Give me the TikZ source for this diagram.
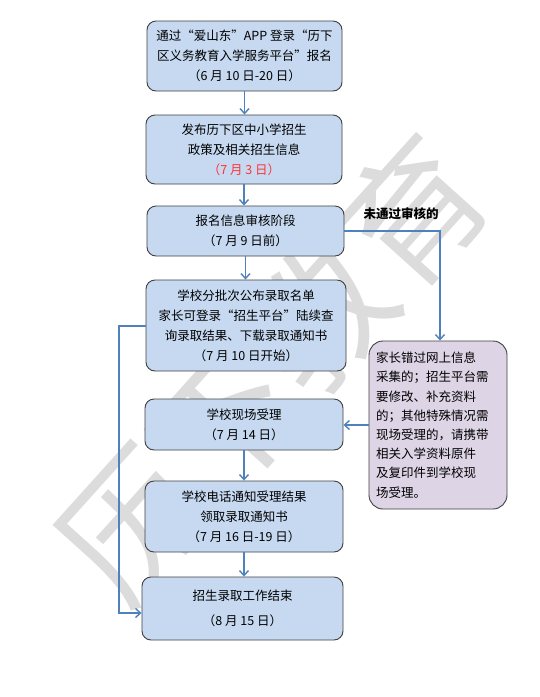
\documentclass[tikz,border=0pt]{standalone}
\usepackage{fontspec}
\setmainfont{Noto Sans CJK SC}
\usetikzlibrary{arrows.meta,calc}
\definecolor{boxfill}{HTML}{C6D9F1}
\definecolor{boxline}{HTML}{404040}
\definecolor{pfill}{HTML}{DDD5E6}
\definecolor{arrowc}{HTML}{4F81BD}
\definecolor{wmark}{HTML}{DCDCDC}
\definecolor{datered}{HTML}{FF3333}
\tikzset{
  flowbox/.style={draw=boxline, line width=0.9pt, fill=boxfill, rounded corners=9pt,
    align=center, inner sep=0pt, font=\fontsize{12.5}{20}\selectfont},
  notebox/.style={draw=boxline, line width=0.9pt, fill=pfill, rounded corners=14pt,
    align=left, inner sep=0pt, font=\fontsize{12.5}{19.2}\selectfont},
  flowarrow/.style={draw=arrowc, line width=1.4pt, -{Straight Barb[length=5pt,width=9pt]}},
  wmtext/.style={text=wmark, font=\fontsize{140}{140}\selectfont, rotate=48, inner sep=0pt}
}
\begin{document}
\begin{tikzpicture}[x=1pt,y=-1pt]
\useasboundingbox (0,0) rectangle (540,697);
\fill[white] (0,0) rectangle (540,697);
% watermark
\node[wmtext] (wm) at (272,368) {历下教育};
% boxes
\node[flowbox, minimum width=195pt, minimum height=70pt] (b1) at (244.5,56)
  {通过“爱山东”APP 登录“历下\\区义务教育入学服务平台”报名\\（6 月 10 日-20 日）};
\node[flowbox, minimum width=196pt, minimum height=69pt] (b2) at (244,149.5)
  {发布历下区中小学招生\\政策及相关招生信息\\\textcolor{datered}{（7 月 3 日）}};
\node[flowbox, minimum width=197pt, minimum height=50pt] (b3) at (245.5,231)
  {报名信息审核阶段\\（7 月 9 日前）};
\node[flowbox, minimum width=200pt, minimum height=91pt] (b4) at (246,325.5)
  {学校分批次公布录取名单\\家长可登录“招生平台”陆续查\\询录取结果、下载录取通知书\\（7 月 10 日开始）};
\node[flowbox, minimum width=198pt, minimum height=51pt] (b5) at (244,424.5)
  {学校现场受理\\（7 月 14 日）};
\node[flowbox, minimum width=198pt, minimum height=71pt] (b6) at (244,516.5)
  {学校电话通知受理结果\\领取录取通知书\\（7 月 16 日-19 日）};
\node[flowbox, minimum width=201pt, minimum height=63pt] (b7) at (242.5,608.5)
  {招生录取工作结束\\[5pt]（8 月 15 日）};
\node[notebox, minimum width=138pt, minimum height=168pt, text width=124pt] (pb) at (438,425)
  {家长错过网上信息\\采集的；招生平台需\\要修改、补充资料\\的；其他特殊情况需\\现场受理的，请携带\\相关入学资料原件\\及复印件到学校现\\场受理。};
\node[font=\fontsize{12.5}{15}\selectfont\bfseries, inner sep=0pt] (lbl) at (401,214) {未通过审核的};
% connectors
\draw[flowarrow] (b1.south) -- (b1.south |- b2.north);
\draw[flowarrow] (b2.south) -- (b2.south |- b3.north);
\draw[flowarrow] (b3.south) -- (b3.south |- b4.north);
\draw[flowarrow] (b5.south) -- (b5.south |- b6.north);
\draw[flowarrow] (b6.south) -- (b6.south |- b7.north);
\coordinate (rc) at (440,231);
\draw[flowarrow] (b3.east) -- (rc) -- (rc |- pb.north);
\draw[flowarrow] (pb.west) -- (pb.west -| b5.east);
\coordinate (lc) at (119,326);
\coordinate (le) at (119,613);
\draw[flowarrow] (b4.west |- lc) -- (lc) -- (le) -- (le -| b7.west);
\end{tikzpicture}
\end{document}
